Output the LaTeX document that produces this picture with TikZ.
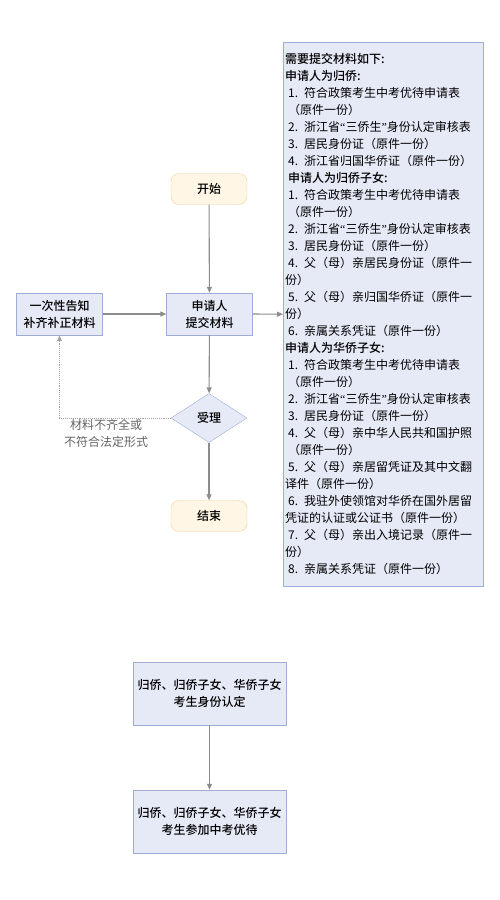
\documentclass[tikz,border=0pt]{standalone}
\usepackage{fontspec}
\setmainfont{Noto Sans CJK SC}
\newfontfamily\medfont{Noto Sans CJK SC}[UprightFont=* Medium]
\newfontfamily\latinq{Liberation Serif}
\usetikzlibrary{arrows.meta,positioning,shapes.geometric}
\definecolor{boxblue}{RGB}{230,234,247}
\definecolor{lineblue}{RGB}{158,172,216}
\definecolor{termfill}{RGB}{255,246,230}
\definecolor{termline}{RGB}{244,208,150}
\definecolor{arrgray}{RGB}{140,140,140}
\definecolor{labelgray}{RGB}{100,100,100}
\newcommand{\ind}{\hspace*{3pt}}
\newcommand{\qsan}{{\latinq “}三侨生{\latinq ”}}

\begin{document}
\begin{tikzpicture}[x=1pt, y=-1pt,
    term/.style={rectangle, rounded corners=8pt, draw=termline, fill=termfill,
        minimum width=76pt, minimum height=31pt, font=\fontsize{12}{15}\selectfont\medfont},
    proc/.style={rectangle, draw=lineblue, fill=boxblue, minimum width=86pt,
        minimum height=42pt, align=center, font=\fontsize{12}{17}\selectfont\medfont},
    widebox/.style={proc, minimum width=153pt, minimum height=63pt, inner sep=2pt},
    decision/.style={diamond, draw=lineblue, fill=boxblue, minimum width=76pt,
        minimum height=49pt, inner sep=0pt, font=\fontsize{12}{15}\selectfont\medfont},
    listbox/.style={rectangle, draw=lineblue, fill=boxblue, minimum width=200pt,
        minimum height=544pt, text width=196pt, inner xsep=2pt, align=left,
        font=\fontsize{12}{17}\selectfont},
    arr/.style={-{Triangle[length=6pt,width=5pt]}, draw=arrgray, line width=1.1pt},
    backarr/.style={arr, densely dotted, line width=1pt, draw=arrgray!80}
]
    \useasboundingbox (0,0) rectangle (500,900);

    \node[term] (start) at (209,189) {开始};
    \node[proc] (apply) at (209.5,314) {申请人\\提交材料};
    \node[proc] (notify) at (59.5,314) {一次性告知\\补齐补正材料};
    \node[decision] (accept) at (209,418) {受理};
    \node[term] (finish) at (209,516) {结束};

    % materials list on the right
    \node[listbox, anchor=north west] (mat) at (283,42) {%
        {\medfont 需要提交材料如下:}\\
        {\medfont 申请人为归侨:}\\
        \ind 1. 符合政策考生中考优待申请表\\
        \ind （原件一份）\\
        \ind 2. 浙江省\qsan 身份认定审核表\\
        \ind 3. 居民身份证（原件一份）\\
        \ind 4. 浙江省归国华侨证（原件一份）\\
        \ind{\medfont 申请人为归侨子女:}\\
        \ind 1. 符合政策考生中考优待申请表\\
        \ind （原件一份）\\
        \ind 2. 浙江省\qsan 身份认定审核表\\
        \ind 3. 居民身份证（原件一份）\\
        \ind 4. 父（母）亲居民身份证（原件一\\
        份）\\
        \ind 5. 父（母）亲归国华侨证（原件一\\
        份）\\
        \ind 6. 亲属关系凭证（原件一份）\\
        {\medfont 申请人为华侨子女:}\\
        \ind 1. 符合政策考生中考优待申请表\\
        \ind （原件一份）\\
        \ind 2. 浙江省\qsan 身份认定审核表\\
        \ind 3. 居民身份证（原件一份）\\
        \ind 4. 父（母）亲中华人民共和国护照\\
        \ind （原件一份）\\
        \ind 5. 父（母）亲居留凭证及其中文翻\\
        译件（原件一份）\\
        \ind 6. 我驻外使领馆对华侨在国外居留\\
        凭证的认证或公证书（原件一份）\\
        \ind 7. 父（母）亲出入境记录（原件一\\
        份）\\
        \ind 8. 亲属关系凭证（原件一份）};

    \draw[arr] (start) -- (apply);
    \draw[arr] (notify) -- (apply);
    \draw[arr] (apply.east) -- (mat.west);
    \draw[arr] (apply) -- (accept);
    \draw[arr] (accept) -- (finish);
    \draw[backarr] (accept.west) -|
        node[pos=0.29, anchor=north, yshift=3pt, align=center, text=labelgray,
             font=\fontsize{12}{17}\selectfont] {材料不齐全或\\不符合法定形式}
        (notify.south);

    % identity check and exam benefit
    \node[widebox] (ident) at (209.5,693.5) {归侨、归侨子女、华侨子女\\考生身份认定};
    \node[widebox] (bonus) at (209.5,821.5) {归侨、归侨子女、华侨子女\\考生参加中考优待};
    \draw[arr] (ident) -- (bonus);
\end{tikzpicture}
\end{document}
